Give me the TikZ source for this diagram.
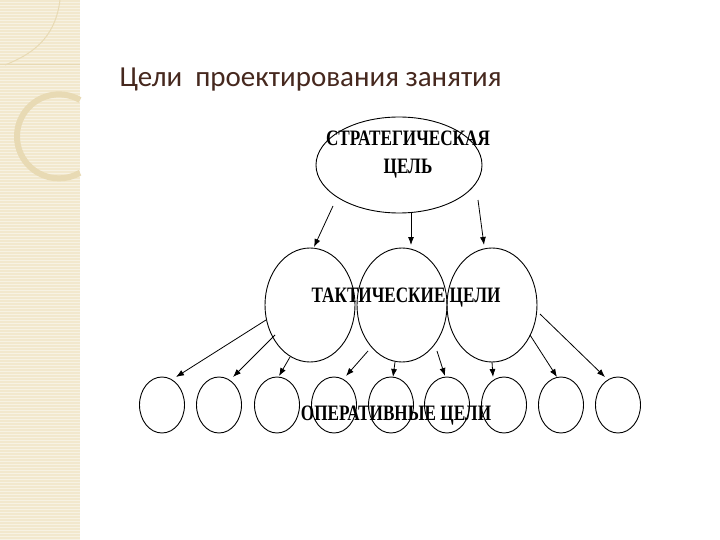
\documentclass[tikz,border=0pt]{standalone}
\usepackage{fontspec}
\setmainfont{Liberation Serif}
\newfontfamily\titlefont{Carlito}
\usetikzlibrary{arrows.meta,shapes.geometric}
\definecolor{strip}{RGB}{242,232,205}
\definecolor{stripl}{RGB}{232,218,180}
\definecolor{titlec}{RGB}{70,40,30}
\begin{document}
\begin{tikzpicture}[x=1pt,y=-1pt,
  ov/.style={draw,line width=0.9pt,inner sep=0pt},
  arr/.style={-{Latex[length=8pt,width=6pt]},line width=0.8pt},
  lab/.style={font=\bfseries\fontsize{22}{24}\selectfont, xscale=0.78}]
\useasboundingbox (0,0) rectangle (720,540);
\fill[white] (0,0) rectangle (720,540);
% decorative strip
\fill[strip] (0,0) rectangle (80,540);
\foreach \y in {2,5,...,540} \draw[white,opacity=0.45,line width=0.6pt] (0,\y) -- (80,\y);
\draw[stripl,line width=1pt] (0,65) -- (80,65);
\draw[stripl,line width=6pt] (80,100) arc[start angle=-60,end angle=-300,radius=42];
\draw[stripl,line width=1pt] (60,0) .. controls (55,40) and (30,55) .. (5,65);
\node[anchor=base west,font=\titlefont\fontsize{29}{31}\selectfont,text=titlec] (title) at (116,87) {Цели\ \ проектирования занятия};
% top ellipse
\node[ov,ellipse,minimum width=166pt,minimum height=96pt] (s) at (399,165) {};
\node[lab,align=center] (st) at (408,155) {СТРАТЕГИЧЕСКАЯ\\[4pt]ЦЕЛЬ};
% tactical circles
\foreach \n/\x in {t1/310,t2/402,t3/492}
  \node[ov,ellipse,minimum width=90pt,minimum height=114pt] (\n) at (\x,305) {};
\node[lab] (tl) at (406,298) {ТАКТИЧЕСКИЕ ЦЕЛИ};
% operative circles
\foreach \i/\x in {1/162,2/219,3/277,4/334,5/391,6/447,7/504,8/561,9/618}
  \node[ov,ellipse,minimum width=45pt,minimum height=56pt] (o\i) at (\x,405) {};
\node[lab] (ol) at (396,416) {ОПЕРАТИВНЫЕ ЦЕЛИ};
% arrows
\foreach \s/\e in {{(333,206)}/{(314,247)},{(411,213)}/{(411,245)},{(478,200)}/{(484,245)},
  {(266,320)}/{(176,377)},{(275,335)}/{(233,377)},{(290,357)}/{(279,376)},
  {(368,351)}/{(346,376)},{(395,362)}/{(393,377)},{(437,351)}/{(445,376)},
  {(492,362)}/{(493,377)},{(530,335)}/{(557,377)},{(540,314)}/{(605,377)}}
  \draw[arr] \s -- \e;
\end{tikzpicture}
\end{document}
